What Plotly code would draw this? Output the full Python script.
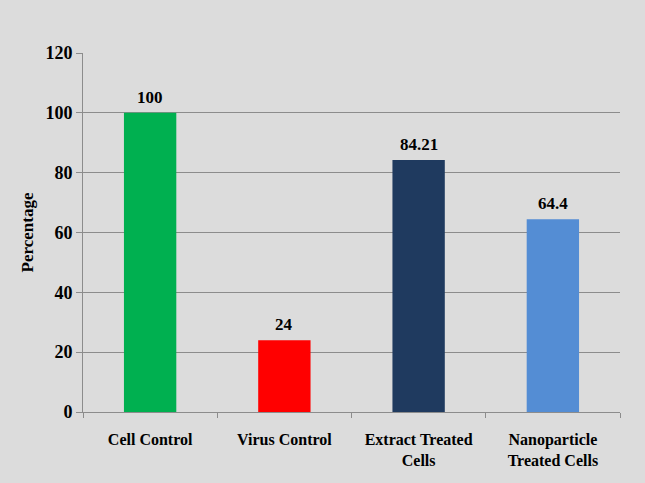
import plotly.graph_objects as go

categories = ["Cell Control", "Virus Control", "Extract Treated<br>Cells", "Nanoparticle<br>Treated Cells"]
values = [100, 24, 84.21, 64.4]
labels = ["100", "24", "84.21", "64.4"]
colors = ["#00b050", "#ff0000", "#1f3a5f", "#548dd4"]
y_ticks = [0, 20, 40, 60, 80, 100, 120]

font_family = "Liberation Serif"

fig = go.Figure(go.Bar(
    x=categories, y=values, marker_color=colors, marker_line_width=0,
    width=0.39, hoverinfo="skip",
))

for c, v, t in zip(categories, values, labels):
    fig.add_annotation(
        x=c, y=v, text="<b>" + t + "</b>", showarrow=False,
        yanchor="bottom", yshift=4,
        font=dict(family=font_family, size=17, color="black"),
    )

fig.update_layout(
    width=645, height=483,
    paper_bgcolor="#dcdcdc", plot_bgcolor="#dcdcdc",
    margin=dict(l=83, r=25, t=53, b=71),
    font=dict(family=font_family, color="black"),
    showlegend=False,
)
fig.update_yaxes(
    range=[0, 120], tickvals=y_ticks, ticktext=["<b>%d</b>" % v for v in y_ticks],
    showgrid=True, gridcolor="#8c8c8c", gridwidth=1,
    showline=True, linecolor="#8c8c8c", linewidth=1,
    ticks="outside", ticklen=6, tickcolor="#8c8c8c",
    tickfont=dict(size=18, family=font_family, color="black"),
    title=dict(text="<b>Percentage</b>", font=dict(size=17, family=font_family), standoff=7),
    zeroline=False,
)
fig.update_xaxes(
    tickvals=categories, ticktext=["<b>" + c + "</b>" for c in categories],
    showline=True, linecolor="#8c8c8c", linewidth=1,
    ticks="outside", ticklen=5, tickcolor="#8c8c8c", tickson="boundaries",
    ticklabelstandoff=13,
    tickfont=dict(size=16, family=font_family, color="black"),
)

fig.write_html("out.html", post_script="document.body.style.margin='0';",
               config={"displayModeBar": False})
